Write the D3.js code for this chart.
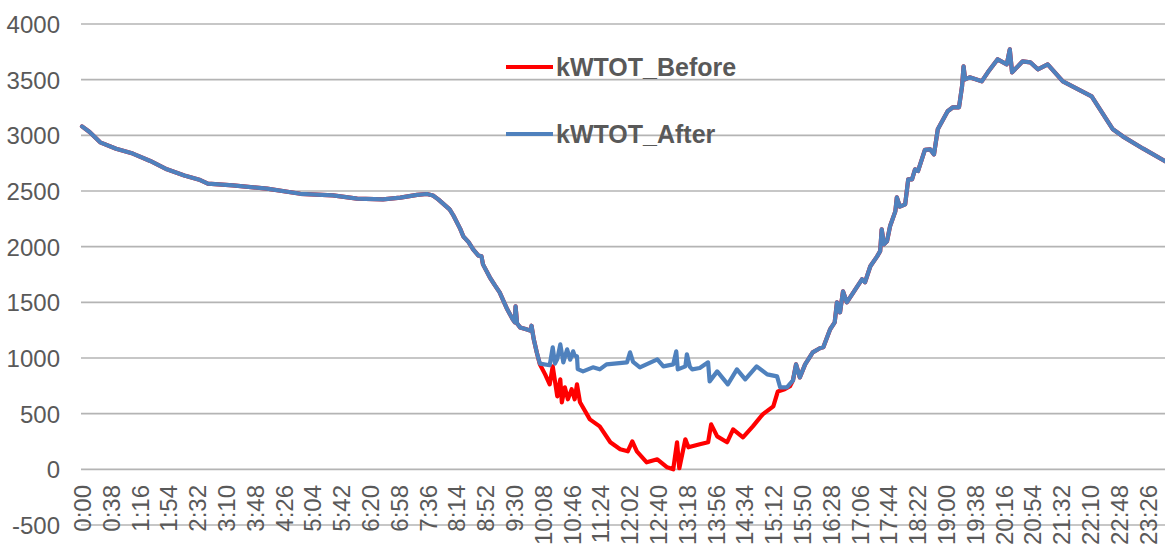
<!DOCTYPE html>
<html>
<head>
<meta charset="utf-8">
<script src="https://cdn.jsdelivr.net/npm/d3@7"></script>
<style>
  html, body { margin: 0; padding: 0; background: #fff; }
  svg { display: block; font-family: "Liberation Sans", Arial, sans-serif; }
</style>
</head>
<body>
<svg id="chart" width="1165" height="545"></svg>
<script>
// ---------------- DATA ----------------
// x-axis tick labels (every 38 minutes)
const tickLabels = ["0:00","0:38","1:16","1:54","2:32","3:10","3:48","4:26","5:04","5:42",
  "6:20","6:58","7:36","8:14","8:52","9:30","10:08","10:46","11:24","12:02",
  "12:40","13:18","13:56","14:34","15:12","15:50","16:28","17:06","17:44","18:22",
  "19:00","19:38","20:16","20:54","21:32","22:10","22:48","23:26"];

const yTicks = [-500, 0, 500, 1000, 1500, 2000, 2500, 3000, 3500, 4000];

// kWTOT_After : minute of day, kW
const afterMinutes = [0,10,24,45,67,90,112,135,156,166,199,244,288,331,363,397,420,442,455,463,
  470,485,490,499,503,510,516,523,527,529,538,545,551,561,568,571,572,574,578,585,
  592,593,596,600,604,617,621,624,627,631,635,640,644,648,650,653,654,661,674,683,
  692,719,723,727,736,759,767,780,784,786,796,798,802,805,815,826,828,838,852,864,
  875,890,904,917,921,930,938,942,947,954,964,974,978,987,993,996,1000,1004,1009,1022,
  1029,1033,1040,1049,1053,1055,1058,1062,1066,1073,1075,1079,1086,1090,1095,1099,1103,1112,1119,1124,
  1129,1142,1149,1157,1161,1163,1165,1171,1187,1195,1208,1220,1224,1227,1241,1251,1261,1274,1294,1332,
  1360,1373,1400,1429,1439];
const afterKW = [3080,3030,2937,2880,2836,2770,2695,2640,2598,2566,2550,2521,2475,2461,2432,2425,2440,2465,2473,2460,
  2425,2335,2280,2160,2093,2040,1976,1920,1913,1841,1725,1650,1590,1437,1350,1320,1464,1310,1275,1260,
  1245,1290,1168,1050,950,935,1096,950,990,1123,960,1078,985,1060,1020,1015,900,880,916,898,
  943,961,1051,965,916,988,925,943,1060,898,925,1033,920,898,910,961,790,880,763,898,
  808,925,853,835,737,737,800,943,826,943,1051,1090,1096,1258,1320,1500,1410,1599,1500,1635,
  1707,1680,1824,1913,1960,2156,2021,2048,2183,2317,2443,2360,2380,2605,2605,2695,2680,2870,2874,2829,
  3054,3216,3252,3252,3440,3620,3503,3521,3485,3566,3683,3638,3772,3566,3665,3656,3593,3638,3485,3350,
  3054,2991,2880,2767,2730];

// kWTOT_Before : identical to After outside this window
const beforeMinutes = [604,611,617,621,627,631,633,637,641,646,650,653,657,670,683,697,710,720,726,732,
  745,759,772,780,785,788,796,800,815,826,830,838,851,859,872,885,898,912,918,927,934];
const beforeKW = [943,853,763,925,656,808,602,737,629,719,629,763,602,449,386,243,180,162,251,162,
  63,90,18,0,243,10,270,198,225,243,404,296,243,359,287,386,494,566,700,719,746];

const seriesNames = ["kWTOT_Before", "kWTOT_After"];
const seriesColors = ["#FF0000", "#4F81BD"];

// ---------------- BUILD ----------------
const after = afterMinutes.map((m, i) => ({ m, v: afterKW[i] }));
const bStart = beforeMinutes[0], bEnd = beforeMinutes[beforeMinutes.length - 1];
const before = after.filter(d => d.m < bStart)
  .concat(beforeMinutes.map((m, i) => ({ m, v: beforeKW[i] })))
  .concat(after.filter(d => d.m > bEnd));

const svg = d3.select("#chart");
const W = 1165;
const plotLeft = 81, plotRight = 1165;

const x = d3.scaleLinear().domain([0, 1439]).range([82, 82 + 1439 * 0.758]);
const y = d3.scaleLinear().domain([-500, 4000]).range([525, 24]);

// gridlines
svg.append("g").selectAll("line.grid").data(yTicks).join("line")
  .attr("class", "grid")
  .attr("x1", plotLeft).attr("x2", plotRight)
  .attr("y1", d => y(d)).attr("y2", d => y(d))
  .attr("stroke", "#B4B4B4").attr("stroke-width", 1.6);

// y labels
const yAxis = d3.axisLeft(y).tickValues(yTicks).tickFormat(d => String(d)).tickSize(0).tickPadding(0);
const gyl = svg.append("g").attr("transform", "translate(60,0)").call(yAxis);
gyl.select(".domain").remove();
gyl.selectAll("text")
  .attr("font-size", 24).attr("fill", "#595959")
  .attr("font-family", "Liberation Sans, Arial, sans-serif")
  .attr("dy", "0.35em").attr("x", 0);

// x labels
const tickMinutes = tickLabels.map(s => { const [h, mm] = s.split(":"); return +h * 60 + +mm; });
const xAxis = d3.axisBottom(x).tickValues(tickMinutes)
  .tickFormat((d, i) => tickLabels[i]).tickSize(0).tickPadding(0);
const gx = svg.append("g").attr("transform", "translate(0,485)").call(xAxis);
gx.select(".domain").remove();
gx.selectAll("text")
  .attr("font-size", 24).attr("fill", "#595959")
  .attr("font-family", "Liberation Sans, Arial, sans-serif")
  .attr("text-anchor", "end")
  .attr("transform", "rotate(-90)")
  .attr("x", 0).attr("y", 0).attr("dy", "0.35em");

// lines
const line = d3.line().x(d => x(d.m)).y(d => y(d.v));
const gl = svg.append("g");
[before, after].forEach((data, i) => {
  gl.append("path").datum(data)
    .attr("d", line)
    .attr("fill", "none")
    .attr("stroke", seriesColors[i])
    .attr("stroke-width", 4.2)
    .attr("stroke-linejoin", "round")
    .attr("stroke-linecap", "round");
});

// legend
const legendY = [67, 134];
const lg = svg.append("g");
seriesNames.forEach((name, i) => {
  lg.append("line")
    .attr("x1", 506).attr("x2", 553)
    .attr("y1", legendY[i]).attr("y2", legendY[i])
    .attr("stroke", seriesColors[i]).attr("stroke-width", 4);
  lg.append("text")
    .attr("x", 556).attr("y", legendY[i]).attr("dy", "0.35em")
    .attr("font-size", 25).attr("font-weight", "bold")
    .attr("fill", "#595959")
    .attr("font-family", "Liberation Sans, Arial, sans-serif")
    .text(name);
});
</script>
</body>
</html>
